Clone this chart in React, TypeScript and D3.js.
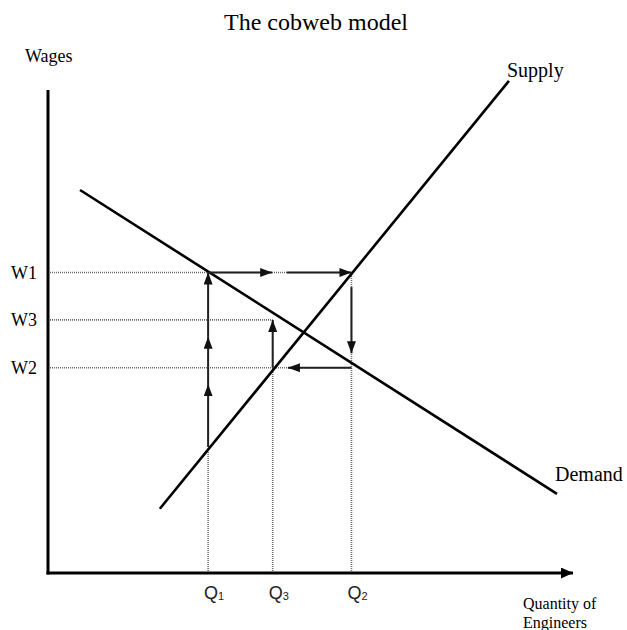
import React from "react";
import * as d3 from "d3";

const width = 627;
const height = 630;

// quantity (x) and wage (y) levels, abstract units 0-100
const quantityLabels = ["Q1", "Q3", "Q2"];
const quantityValues = [30.5, 42.8, 57.8];
const wageLabels = ["W1", "W3", "W2"];
const wageValues = [62.2, 52.4, 42.5];

const supplyPoints: [number, number][] = [[21.3, 13.3], [87.8, 101.9]];
const demandPoints: [number, number][] = [[6.1, 79.3], [96.95, 16.4]];

// the cobweb path, each step drawn as an arrow (from -> to)
const cobwebSteps: [number, number, number, number][] = [
  [30.5, 26.1, 30.5, 39.1],
  [30.5, 39.1, 30.5, 48.9],
  [30.5, 48.9, 30.5, 62.2],
  [30.5, 62.2, 42.7, 62.2],
  [45.5, 62.2, 57.8, 62.2],
  [57.8, 59.2, 57.8, 45.5],
  [57.8, 42.5, 45.7, 42.5],
  [42.8, 42.5, 42.8, 52.4],
];

// how far right each wage guide runs, and how high each quantity guide runs
const wageGuideTo = [57.8, 42.8, 57.8];
const quantityGuideTo = [62.2, 52.4, 62.2];

const x = d3.scaleLinear().domain([0, 100]).range([48, 573]);
const y = d3.scaleLinear().domain([0, 100]).range([573, 90]);

const line = d3
  .line<[number, number]>()
  .x(d => x(d[0]))
  .y(d => y(d[1]));

const serif = "'Liberation Serif', 'DejaVu Serif', serif";
const sans = "'Liberation Sans', Arial, sans-serif";
const guide = { stroke: "#6a6a6a", strokeWidth: 1.6, strokeDasharray: "1 1" };

export default function App() {
  return (
    <svg
      width={width}
      height={height}
      style={{ position: "absolute", left: 0, top: 0, background: "#fff" }}
    >
      <defs>
        <marker
          id="head"
          markerUnits="userSpaceOnUse"
          markerWidth={13}
          markerHeight={10}
          refX={12}
          refY={4.5}
          orient="auto"
        >
          <path d="M0,0 L12,4.5 L0,9 Z" fill="#111" />
        </marker>
        <marker
          id="axisHead"
          markerUnits="userSpaceOnUse"
          markerWidth={13}
          markerHeight={12}
          refX={12}
          refY={5.5}
          orient="auto"
        >
          <path d="M0,0 L12,5.5 L0,11 Z" fill="#000" />
        </marker>
      </defs>

      <text x={316} y={30} textAnchor="middle" fontFamily={serif} fontSize={24}>
        The cobweb model
      </text>
      <text x={25} y={62} fontFamily={serif} fontSize={18}>
        Wages
      </text>

      {/* dotted guides */}
      {wageValues.map((w, i) => (
        <line key={"wg" + i} x1={x(0) + 2} x2={x(wageGuideTo[i])} y1={y(w)} y2={y(w)} {...guide} />
      ))}
      {quantityValues.map((q, i) => (
        <line key={"qg" + i} x1={x(q)} x2={x(q)} y1={y(0)} y2={y(quantityGuideTo[i])} {...guide} />
      ))}

      {/* axes */}
      <line x1={x(0)} x2={x(0)} y1={y(0) + 1.5} y2={y(100)} stroke="#000" strokeWidth={3} />
      <line
        x1={x(0) - 1.5}
        x2={x(100)}
        y1={y(0)}
        y2={y(0)}
        stroke="#000"
        strokeWidth={3}
        markerEnd="url(#axisHead)"
      />

      {/* supply and demand */}
      <path d={line(supplyPoints) || ""} fill="none" stroke="#000" strokeWidth={2.6} />
      <path d={line(demandPoints) || ""} fill="none" stroke="#000" strokeWidth={2.6} />

      {/* cobweb arrows */}
      {cobwebSteps.map((s, i) => (
        <line
          key={"a" + i}
          x1={x(s[0])}
          y1={y(s[1])}
          x2={x(s[2])}
          y2={y(s[3])}
          stroke="#222"
          strokeWidth={2}
          markerEnd="url(#head)"
        />
      ))}

      {/* labels */}
      {wageLabels.map((l, i) => (
        <text key={l} x={37} y={y(wageValues[i]) + 6} textAnchor="end" fontFamily={serif} fontSize={18}>
          {l}
        </text>
      ))}
      {quantityLabels.map((l, i) => (
        <text key={l} x={x(quantityValues[i]) + 6} y={599} textAnchor="middle" fontFamily={sans} fontSize={18} fill="#222">
          {l[0]}
          <tspan fontSize={11} dy={1}>{l.slice(1)}</tspan>
        </text>
      ))}
      <text x={507} y={77} fontFamily={serif} fontSize={20}>
        Supply
      </text>
      <text x={555} y={481} fontFamily={serif} fontSize={20}>
        Demand
      </text>
      <text x={523} y={609} fontFamily={serif} fontSize={16}>
        Quantity of
      </text>
      <text x={523} y={628} fontFamily={serif} fontSize={16}>
        Engineers
      </text>
    </svg>
  );
}
